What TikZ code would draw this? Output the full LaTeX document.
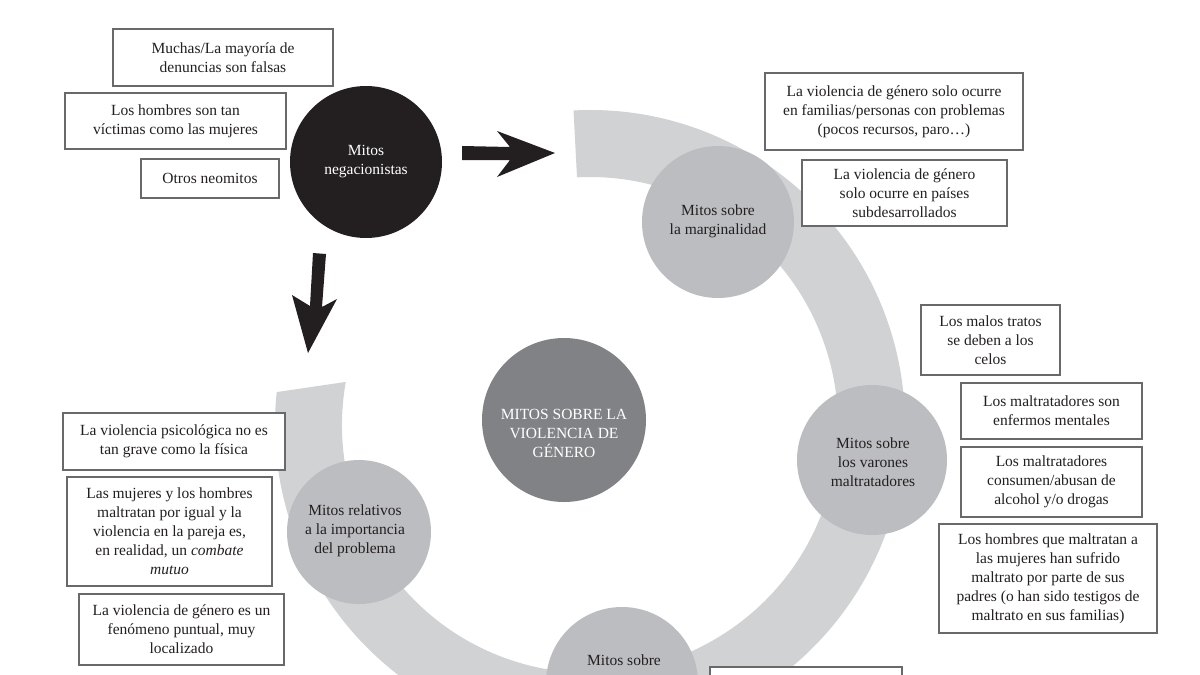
\documentclass[tikz,border=0pt]{standalone}
\usepackage{fontspec}
\setmainfont{Liberation Serif}
\definecolor{ringgray}{RGB}{209,210,212}
\definecolor{satgray}{RGB}{188,189,192}
\definecolor{centralgray}{RGB}{128,130,133}
\definecolor{blackc}{RGB}{35,31,32}
\definecolor{boxgray}{RGB}{105,105,108}
\definecolor{txt}{RGB}{35,31,32}
\begin{document}
\begin{tikzpicture}[x=1pt,y=1pt,
  mytext/.style={font=\fontsize{15.5}{19}\selectfont, align=center, text=txt},
  mybox/.style={mytext, draw=boxgray, line width=1.1pt, fill=white, inner sep=0pt},
  satcircle/.style={circle, fill=satgray, inner sep=0pt},
  arrowshape/.style={fill=blackc}]
\useasboundingbox (0,0) rectangle (1200,-675);
\clip (0,0) rectangle (1200,-675);
\fill[white] (0,0) rectangle (1200,-675);

% ring
\begin{scope}[shift={(590,-425)}]
\fill[ringgray] (93:315) arc[start angle=93, end angle=-186, radius=315]
  -- (-190:248) arc[start angle=-190, end angle=93, radius=248] -- cycle;
\end{scope}

% arrows
\fill[arrowshape] (462,-146) -- (510,-147) -- (497,-131) -- (555,-153) -- (497,-177) -- (510,-160) -- (462,-160) -- cycle;
\fill[arrowshape] (313,-253) -- (326,-254) -- (322,-307) -- (337,-299) -- (308,-353) -- (292,-295) -- (310,-306) -- cycle;

% circles
\node[circle, fill=blackc, minimum size=152pt, inner sep=0pt] (neg) at (366,-162) {};
\node[mytext, text=white] (negt) at (366,-162) {Mitos\\negacionistas};
\node[circle, fill=centralgray, minimum size=164pt, inner sep=0pt] (central) at (564,-420) {};
\node[mytext, text=white] (centralt) at (564,-433) {MITOS SOBRE LA\\VIOLENCIA DE\\GÉNERO};
\node[satcircle, minimum size=152pt] (marg) at (718,-222) {};
\node[mytext] (margt) at (718,-221) {Mitos sobre\\la marginalidad};
\node[satcircle, minimum size=150pt] (var) at (872,-460) {};
\node[mytext] (vart) at (873,-462) {Mitos sobre\\los varones\\maltratadores};
\node[satcircle, minimum size=144pt] (imp) at (359,-532) {};
\node[mytext] (impt) at (355,-531) {Mitos relativos\\a la importancia\\del problema};
\node[satcircle, minimum size=152pt] (muj) at (622,-683) {};
\node[mytext, anchor=center] (mujt) at (624,-660) {Mitos sobre};

% boxes
\node[mybox, minimum width=220pt, minimum height=57pt] (b1) at (223,-57.5) {Muchas/La mayoría de\\denuncias son falsas};
\node[mybox, minimum width=221pt, minimum height=56pt] (b2) at (175.5,-121) {Los hombres son tan\\víctimas como las mujeres};
\node[mybox, minimum width=138pt, minimum height=39pt] (b3) at (210,-178.5) {Otros neomitos};
\node[mybox, minimum width=258pt, minimum height=77pt] (b4) at (894,-111.5) {La violencia de género solo ocurre\\en familias/personas con problemas\\(pocos recursos, paro…)};
\node[mybox, minimum width=205pt, minimum height=66pt] (b5) at (904.5,-193) {La violencia de género\\solo ocurre en países\\subdesarrollados};
\node[mybox, minimum width=139pt, minimum height=70pt] (b6) at (990.5,-340) {Los malos tratos\\se deben a los\\celos};
\node[mybox, minimum width=181pt, minimum height=56pt] (b7) at (1051.5,-411) {Los maltratadores son\\enfermos mentales};
\node[mybox, minimum width=181pt, minimum height=70pt] (b8) at (1051.5,-482) {Los maltratadores\\consumen/abusan de\\alcohol y/o drogas};
\node[mybox, minimum width=218pt, minimum height=109pt] (b9) at (1048,-578.5) {Los hombres que maltratan a\\las mujeres han sufrido\\maltrato por parte de sus\\padres (o han sido testigos de\\maltrato en sus familias)};
\node[mybox, minimum width=222pt, minimum height=57pt] (b10) at (174,-441.5) {La violencia psicológica no es\\tan grave como la física};
\node[mybox, minimum width=205pt, minimum height=109pt] (b11) at (169.5,-531.5) {Las mujeres y los hombres\\maltratan por igual y la\\violencia en la pareja es,\\en realidad, un \textit{combate}\\\textit{mutuo}};
\node[mybox, minimum width=205pt, minimum height=71pt] (b12) at (181.5,-629.5) {La violencia de género es un\\fenómeno puntual, muy\\localizado};
\node[mybox, minimum width=192pt, minimum height=90pt] (b13) at (806,-712) {};
\end{tikzpicture}
\end{document}
